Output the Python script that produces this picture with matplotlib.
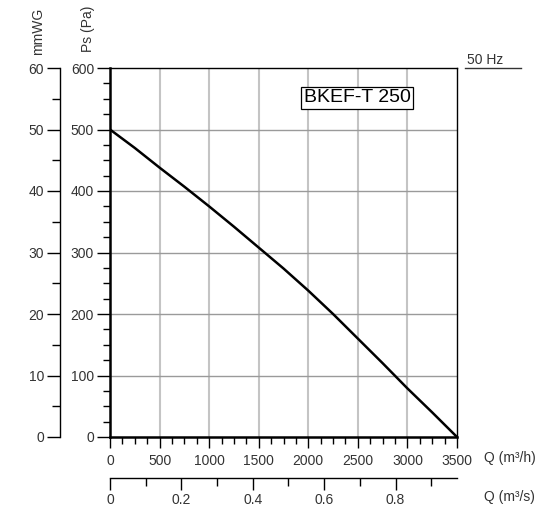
import matplotlib
matplotlib.use("Agg")
import matplotlib.pyplot as plt
from matplotlib.ticker import MultipleLocator

# ── Data ────────────────────────────────────────────────
q_m3h = [0, 250, 500, 750, 1000, 1250, 1500, 1750, 2000, 2250, 2500, 2750, 3000, 3250, 3500]
ps_pa = [500, 470, 438, 407, 375, 342, 308, 274, 238, 200, 160, 120, 79, 40, 0]

model_name = "BKEF-T 250"
freq_label = "50 Hz"

plt.rcParams["font.family"] = ["Liberation Sans", "DejaVu Sans"]
TXT = "#333333"
FS = 10

fig = plt.figure(figsize=(5.35, 5.13), dpi=100)
W, H = 535, 513
x0, x1, y_top, y_bot = 110, 457, 68, 437
ax = fig.add_axes([x0 / W, 1 - y_bot / H, (x1 - x0) / W, (y_bot - y_top) / H])

ax.plot(q_m3h, ps_pa, color="black", lw=1.8, solid_joinstyle="round", zorder=5)

ax.set_xlim(0, 3500)
ax.set_ylim(0, 600)
ax.xaxis.set_major_locator(MultipleLocator(500))
ax.xaxis.set_minor_locator(MultipleLocator(125))
ax.yaxis.set_major_locator(MultipleLocator(100))
ax.yaxis.set_minor_locator(MultipleLocator(25))

# grid
for xv in range(500, 3500, 500):
    ax.axvline(xv, color="#c4c4c4", lw=1.5, zorder=1)
for yv in range(100, 600, 100):
    ax.axhline(yv, color="#9a9a9a", lw=1.0, zorder=1)

for s in ["left", "bottom"]:
    ax.spines[s].set_linewidth(1.8)
for s in ["top", "right"]:
    ax.spines[s].set_linewidth(1.0)

ax.tick_params(axis="y", which="major", length=9.5, width=1.0, pad=2, labelsize=FS, labelcolor=TXT)
ax.tick_params(axis="y", which="minor", length=5, width=1.0)
ax.tick_params(axis="x", which="major", length=8, width=1.0, pad=4, labelsize=FS, labelcolor=TXT)
ax.tick_params(axis="x", which="minor", length=5, width=1.0)

# mmWG axis
ax_mm = ax.secondary_yaxis((60 - x0) / (x1 - x0), functions=(lambda v: v / 10, lambda v: v * 10))
ax_mm.yaxis.set_major_locator(MultipleLocator(10))
ax_mm.yaxis.set_minor_locator(MultipleLocator(5))
ax_mm.spines["left"].set_linewidth(1.0)
ax_mm.tick_params(axis="y", which="major", length=9.5, width=1.0, pad=2, labelsize=FS, labelcolor=TXT)
ax_mm.tick_params(axis="y", which="minor", length=5.5, width=1.0)

# m3/s axis
ax_s = ax.secondary_xaxis(-(478 - y_bot) / (y_bot - y_top), functions=(lambda v: v / 3600, lambda v: v * 3600))
ax_s.xaxis.set_major_locator(MultipleLocator(0.2))
ax_s.xaxis.set_minor_locator(MultipleLocator(0.1))
ax_s.xaxis.set_major_formatter(lambda v, p: "0" if abs(v) < 1e-9 else f"{v:.1f}")
ax_s.spines["bottom"].set_linewidth(1.0)
ax_s.tick_params(axis="x", which="major", length=8.5, width=1.0, pad=2, labelsize=FS, labelcolor=TXT)
ax_s.tick_params(axis="x", which="minor", length=5.5, width=1.0)

# axis titles
fig.text(88 / W, 1 - 29 / H, "Ps (Pa)", rotation=90, ha="center", va="center", fontsize=FS, color=TXT)
fig.text(38 / W, 1 - 31 / H, "mmWG", rotation=90, ha="center", va="center", fontsize=FS, color=TXT)
fig.text(484 / W, 1 - 458 / H, "Q (m³/h)", ha="left", va="center", fontsize=FS, color=TXT)
fig.text(484 / W, 1 - 497 / H, "Q (m³/s)", ha="left", va="center", fontsize=FS, color=TXT)

# frequency label with underline
fig.text(467 / W, 1 - 60 / H, freq_label, ha="left", va="center", fontsize=FS, color=TXT)
fig.add_artist(plt.Line2D([465 / W, 521 / W], [1 - 68 / H, 1 - 68 / H], color="#333333", lw=1.0))

# model box
ax.text(357 / W, 1 - 98 / H, model_name, transform=fig.transFigure, ha="center", va="center",
        fontsize=14, color="black", zorder=6,
        bbox=dict(boxstyle="square,pad=0.15", facecolor="white", edgecolor="black", lw=0.9))

plt.savefig("out.png", dpi=100)
